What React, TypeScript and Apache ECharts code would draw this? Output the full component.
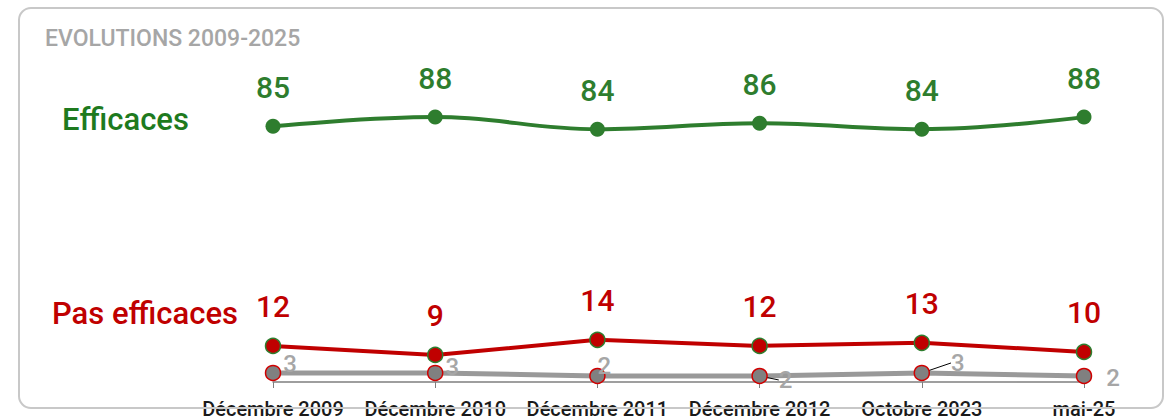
import React, { useEffect, useRef } from "react";
import * as echarts from "echarts";

const categories = ["Décembre 2009", "Décembre 2010", "Décembre 2011", "Décembre 2012", "Octobre 2023", "mai-25"];
const efficaces = [85, 88, 84, 86, 84, 88];
const pasEfficaces = [12, 9, 14, 12, 13, 10];
const nsp = [3, 3, 2, 2, 3, 2];

const FONT = "Roboto, 'DejaVu Sans', sans-serif";

export default function App() {
  const ref = useRef<HTMLDivElement>(null);
  useEffect(() => {
    document.body.style.margin = "0";
    const chart = echarts.init(ref.current!, null, { renderer: "svg" });
    // label offsets for the grey series (styling only)
    const grayOffsets: [number, number][] = [
      [17, -9], [17, -6], [7, -10], [26, 4], [36, -10], [29, 2],
    ];
    const movedWithLine = [3, 4];
    const nspData = nsp.map((v, i) =>
      movedWithLine.indexOf(i) >= 0 ? { value: v } : { value: v, labelLine: { show: false } }
    );
    chart.setOption({
      animation: false,
      backgroundColor: "#ffffff",
      grid: { left: 273, right: 89, top: 81, bottom: 38, containLabel: false },
      xAxis: {
        type: "category",
        data: categories,
        boundaryGap: false,
        axisLine: { show: true, lineStyle: { color: "#7f7f7f", width: 1.5 } },
        axisTick: { show: true, length: 6, lineStyle: { color: "#7f7f7f" } },
        axisLabel: {
          margin: 17,
          color: "#1a1a1a",
          fontSize: 20,
          fontWeight: 500,
          fontFamily: FONT,
          interval: 0,
        },
      },
      yAxis: { type: "value", min: 0, max: 100, show: false, splitLine: { show: false } },
      graphic: [
        {
          type: "rect",
          shape: { x: 19, y: 8, width: 1144, height: 400, r: 12 },
          style: { fill: "none", stroke: "#c8c8c8", lineWidth: 2 },
          silent: true,
          z: 100,
        },
        {
          type: "text",
          left: 45,
          top: 27,
          style: { text: "EVOLUTIONS 2009-2025", fill: "#a6a6a6", font: `500 23px ${FONT}` },
        },
        {
          type: "text",
          left: 62,
          top: 104,
          style: { text: "Efficaces", fill: "#1e7a1e", font: `500 31px ${FONT}` },
        },
        {
          type: "text",
          left: 52,
          top: 298,
          style: { text: "Pas efficaces", fill: "#c00000", font: `500 31px ${FONT}` },
        },
      ],
      series: [
        {
          name: "Efficaces",
          type: "line",
          data: efficaces,
          smooth: 0.4,
          symbol: "circle",
          symbolSize: 15,
          itemStyle: { color: "#2e7d2e" },
          lineStyle: { color: "#2e7d2e", width: 4 },
          label: {
            show: true,
            position: "top",
            distance: 16,
            color: "#2e7d2e",
            fontSize: 30,
            fontWeight: 500,
            fontFamily: FONT,
          },
          z: 3,
        },
        {
          name: "Pas efficaces",
          type: "line",
          data: pasEfficaces,
          symbol: "circle",
          symbolSize: 15,
          itemStyle: { color: "#c00000", borderColor: "#2e7d2e", borderWidth: 1.5 },
          lineStyle: { color: "#c00000", width: 4 },
          label: {
            show: true,
            position: "top",
            distance: 16,
            color: "#c00000",
            fontSize: 30,
            fontWeight: 500,
            fontFamily: FONT,
          },
          z: 3,
        },
        {
          name: "NSP",
          type: "line",
          data: nspData,
          symbol: "circle",
          symbolSize: 15,
          itemStyle: { color: "#808080", borderColor: "#d00000", borderWidth: 1.5 },
          lineStyle: { color: "#999999", width: 5 },
          label: {
            show: true,
            position: "inside",
            color: "#a6a6a6",
            fontSize: 24,
            fontWeight: 500,
            fontFamily: FONT,
          },
          labelLine: { show: true, lineStyle: { color: "#000000", width: 1 } },
          labelLayout: (params: any) => {
            const o = grayOffsets[params.dataIndex] || [0, 0];
            return { dx: o[0], dy: o[1] };
          },
          z: 2,
        },
      ],
    });
    return () => chart.dispose();
  }, []);
  return <div ref={ref} style={{ width: 1173, height: 420 }} />;
}
